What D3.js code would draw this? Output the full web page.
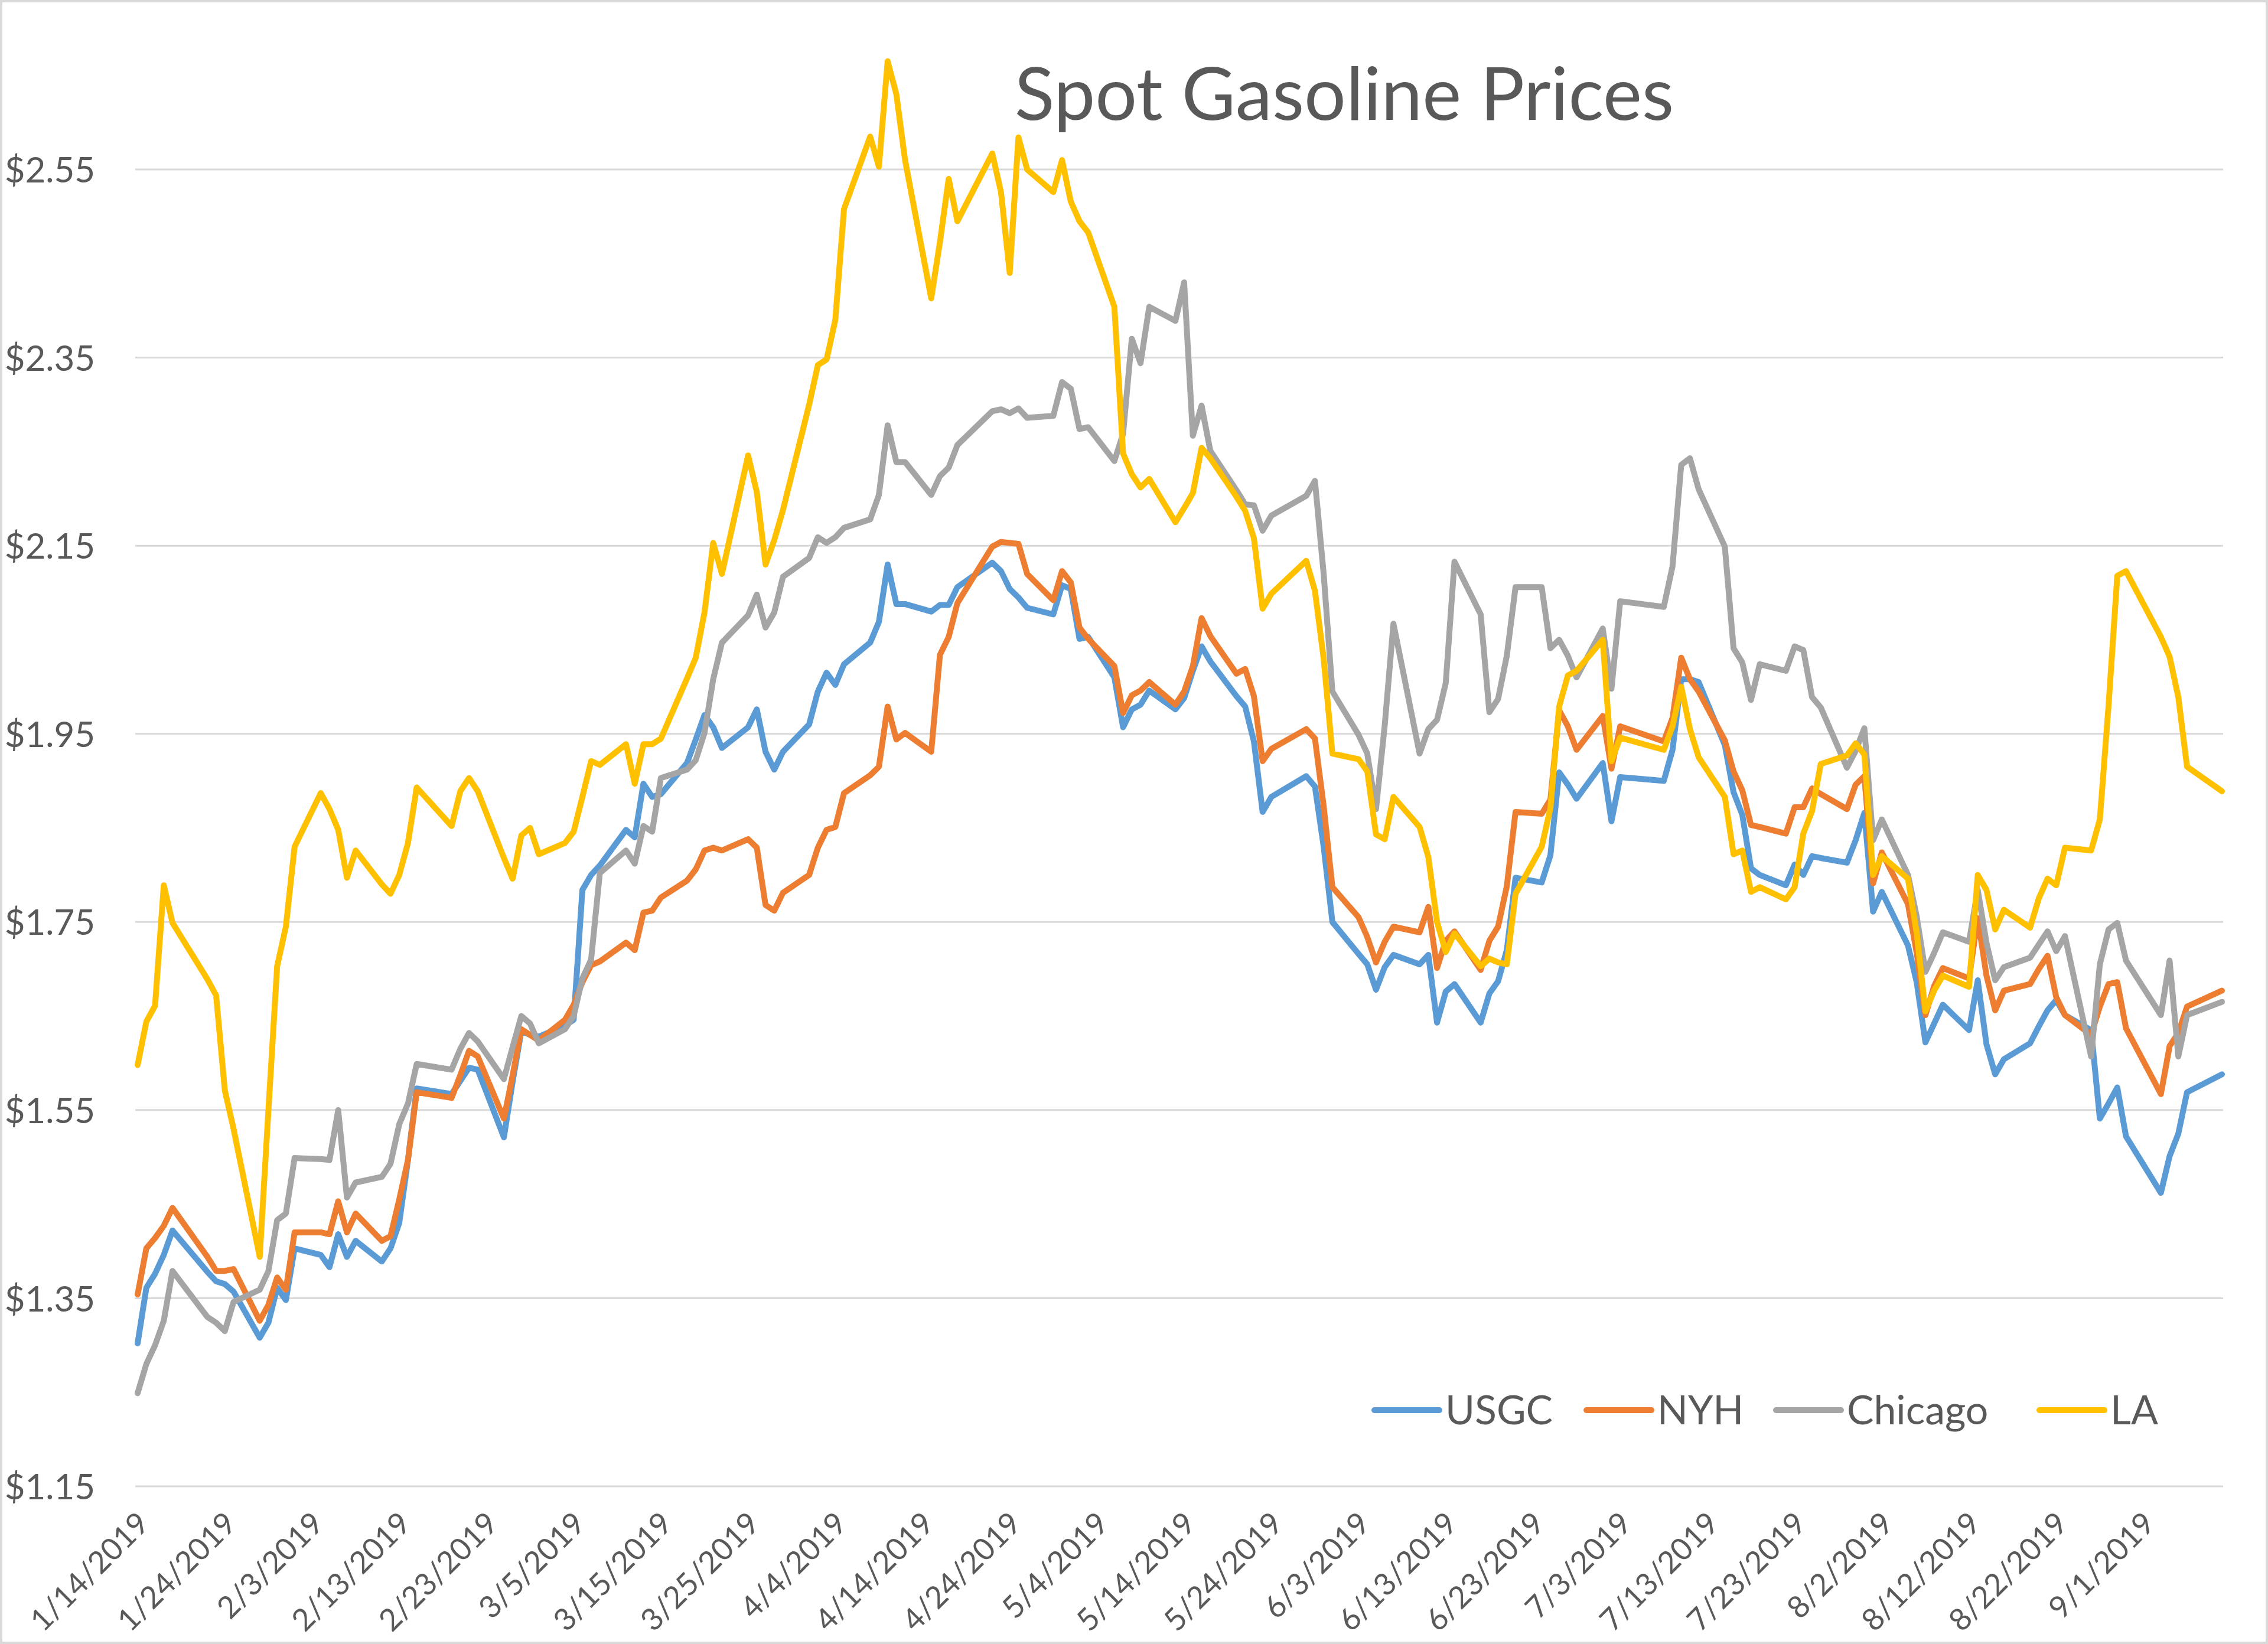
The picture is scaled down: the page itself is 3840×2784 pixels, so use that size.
<!DOCTYPE html>
<html><head><meta charset="utf-8">
<script src="https://cdn.jsdelivr.net/npm/d3@7"></script>
<style>
html,body{margin:0;padding:0;background:#fff;}
svg{display:block;}
</style></head><body>
<svg id="chart" width="3840" height="2784"></svg>
<script>
// ---------------- DATA ----------------
const dates = [
 "2019-01-14","2019-01-15","2019-01-16","2019-01-17","2019-01-18","2019-01-22","2019-01-23","2019-01-24","2019-01-25","2019-01-28","2019-01-29","2019-01-30","2019-01-31",
 "2019-02-01","2019-02-04","2019-02-05","2019-02-06","2019-02-07","2019-02-08","2019-02-11","2019-02-12","2019-02-13","2019-02-14","2019-02-15","2019-02-19","2019-02-20","2019-02-21","2019-02-22","2019-02-25","2019-02-26","2019-02-27","2019-02-28",
 "2019-03-01","2019-03-04","2019-03-05","2019-03-06","2019-03-07","2019-03-08","2019-03-11","2019-03-12","2019-03-13","2019-03-14","2019-03-15","2019-03-18","2019-03-19","2019-03-20","2019-03-21","2019-03-22","2019-03-25","2019-03-26","2019-03-27","2019-03-28","2019-03-29",
 "2019-04-01","2019-04-02","2019-04-03","2019-04-04","2019-04-05","2019-04-08","2019-04-09","2019-04-10","2019-04-11","2019-04-12","2019-04-15","2019-04-16","2019-04-17","2019-04-18","2019-04-22","2019-04-23","2019-04-24","2019-04-25","2019-04-26","2019-04-29","2019-04-30",
 "2019-05-01","2019-05-02","2019-05-03","2019-05-06","2019-05-07","2019-05-08","2019-05-09","2019-05-10","2019-05-13","2019-05-14","2019-05-15","2019-05-16","2019-05-17","2019-05-20","2019-05-21","2019-05-22","2019-05-23","2019-05-24","2019-05-28","2019-05-29","2019-05-30","2019-05-31",
 "2019-06-03","2019-06-04","2019-06-05","2019-06-06","2019-06-07","2019-06-10","2019-06-11","2019-06-12","2019-06-13","2019-06-14","2019-06-17","2019-06-18","2019-06-19","2019-06-20","2019-06-21","2019-06-24","2019-06-25","2019-06-26","2019-06-27","2019-06-28",
 "2019-07-01","2019-07-02","2019-07-03","2019-07-08","2019-07-09","2019-07-10","2019-07-11","2019-07-12","2019-07-15","2019-07-16","2019-07-17","2019-07-18","2019-07-19","2019-07-22","2019-07-23","2019-07-24","2019-07-25","2019-07-26","2019-07-29","2019-07-30","2019-07-31",
 "2019-08-01","2019-08-02","2019-08-05","2019-08-06","2019-08-07","2019-08-08","2019-08-09","2019-08-12","2019-08-13","2019-08-14","2019-08-15","2019-08-16","2019-08-19","2019-08-20","2019-08-21","2019-08-22","2019-08-23","2019-08-26","2019-08-27","2019-08-28","2019-08-29","2019-08-30",
 "2019-09-03","2019-09-04","2019-09-05","2019-09-06","2019-09-10"
];

const usgc = [
 1.302,1.361,1.376,1.396,1.422,1.378,1.368,1.365,1.357,1.308,1.324,1.361,1.348,
 1.403,1.396,1.383,1.418,1.394,1.411,1.389,1.403,1.430,1.497,1.573,1.567,1.581,1.595,1.593,1.521,1.580,1.634,1.630,
 1.628,1.640,1.646,1.784,1.800,1.810,1.848,1.840,1.897,1.883,1.886,1.919,1.944,1.970,1.957,1.935,1.957,1.976,1.931,1.912,1.931,
 1.960,1.995,2.015,2.002,2.024,2.047,2.069,2.130,2.088,2.088,2.080,2.087,2.087,2.106,2.132,2.123,2.104,2.095,2.084,2.077,2.108,
 2.104,2.051,2.053,2.010,1.957,1.976,1.981,1.996,1.976,1.988,2.017,2.043,2.027,1.990,1.979,1.942,1.867,1.883,1.905,1.894,1.830,1.750,
 1.716,1.705,1.678,1.702,1.715,1.705,1.715,1.643,1.676,1.684,1.643,1.674,1.687,1.720,1.797,1.792,1.821,1.909,1.896,1.881,
 1.919,1.857,1.904,1.900,1.933,2.008,2.008,2.005,1.938,1.888,1.864,1.807,1.800,1.789,1.811,1.800,1.820,1.818,1.813,1.837,1.866,
 1.761,1.782,1.725,1.686,1.622,1.642,1.662,1.635,1.688,1.620,1.588,1.604,1.621,1.639,1.656,1.667,1.651,1.635,1.541,1.557,1.574,1.522,
 1.462,1.501,1.525,1.569,1.588
];

const nyh = [
 1.354,1.403,1.414,1.427,1.446,1.394,1.379,1.379,1.381,1.326,1.343,1.372,1.359,
 1.420,1.420,1.418,1.453,1.420,1.440,1.411,1.416,1.455,1.497,1.569,1.563,1.587,1.613,1.607,1.541,1.587,1.636,1.630,
 1.624,1.646,1.662,1.686,1.704,1.708,1.728,1.720,1.760,1.762,1.776,1.794,1.806,1.826,1.829,1.826,1.838,1.829,1.768,1.762,1.781,
 1.800,1.829,1.848,1.851,1.887,1.906,1.915,1.979,1.944,1.951,1.931,2.034,2.053,2.089,2.149,2.154,2.153,2.152,2.120,2.092,2.123,
 2.111,2.063,2.051,2.022,1.972,1.991,1.996,2.005,1.981,1.995,2.022,2.073,2.054,2.014,2.019,1.990,1.921,1.934,1.955,1.945,1.873,1.787,
 1.755,1.734,1.707,1.729,1.745,1.739,1.766,1.701,1.730,1.740,1.699,1.730,1.745,1.788,1.867,1.865,1.880,1.975,1.958,1.933,
 1.969,1.913,1.958,1.942,1.967,2.031,2.008,1.995,1.943,1.910,1.890,1.853,1.851,1.844,1.872,1.872,1.892,1.886,1.870,1.896,1.905,
 1.791,1.824,1.769,1.717,1.651,1.682,1.701,1.690,1.754,1.693,1.656,1.677,1.684,1.700,1.714,1.670,1.651,1.630,1.660,1.684,1.686,1.637,
 1.567,1.618,1.632,1.660,1.677
];

const chicago = [
 1.249,1.280,1.300,1.326,1.379,1.330,1.324,1.315,1.346,1.359,1.379,1.433,1.440,
 1.499,1.498,1.497,1.550,1.457,1.473,1.479,1.493,1.535,1.557,1.599,1.593,1.615,1.632,1.623,1.583,1.617,1.650,1.642,
 1.621,1.636,1.650,1.690,1.710,1.802,1.826,1.812,1.852,1.846,1.903,1.912,1.922,1.951,2.008,2.047,2.076,2.098,2.063,2.079,2.117,
 2.137,2.159,2.153,2.159,2.169,2.178,2.204,2.278,2.239,2.239,2.204,2.224,2.233,2.257,2.293,2.295,2.291,2.296,2.286,2.288,2.324,
 2.317,2.274,2.276,2.240,2.269,2.370,2.344,2.404,2.389,2.430,2.267,2.299,2.251,2.209,2.194,2.193,2.166,2.182,2.203,2.219,2.120,1.995,
 1.949,1.929,1.870,1.959,2.067,1.929,1.955,1.965,2.004,2.133,2.077,1.973,1.987,2.033,2.106,2.106,2.041,2.050,2.033,2.010,
 2.062,1.998,2.091,2.085,2.128,2.236,2.243,2.210,2.149,2.041,2.026,1.986,2.024,2.017,2.043,2.039,1.989,1.978,1.914,1.932,1.956,
 1.837,1.859,1.800,1.756,1.697,1.717,1.739,1.729,1.784,1.728,1.688,1.702,1.712,1.726,1.740,1.719,1.735,1.607,1.705,1.742,1.749,1.709,
 1.651,1.709,1.607,1.651,1.665
];

const la = [
 1.598,1.644,1.661,1.789,1.749,1.689,1.672,1.571,1.530,1.394,1.550,1.703,1.745,
 1.830,1.887,1.870,1.848,1.797,1.826,1.790,1.780,1.800,1.834,1.893,1.852,1.889,1.903,1.889,1.818,1.796,1.842,1.850,
 1.822,1.834,1.846,1.883,1.921,1.917,1.939,1.897,1.939,1.939,1.945,2.009,2.031,2.079,2.153,2.120,2.246,2.207,2.130,2.156,2.188,
 2.300,2.342,2.348,2.390,2.508,2.585,2.553,2.665,2.630,2.560,2.413,2.473,2.540,2.495,2.567,2.526,2.440,2.584,2.550,2.526,2.560,
 2.516,2.495,2.483,2.404,2.248,2.226,2.212,2.221,2.175,2.190,2.206,2.254,2.243,2.202,2.187,2.158,2.083,2.099,2.134,2.102,2.030,1.929,
 1.923,1.910,1.843,1.838,1.883,1.851,1.819,1.750,1.718,1.738,1.703,1.711,1.707,1.705,1.780,1.830,1.871,1.979,2.012,2.017,
 2.050,1.921,1.946,1.933,1.958,2.000,1.955,1.925,1.883,1.822,1.826,1.782,1.787,1.774,1.787,1.844,1.868,1.918,1.927,1.940,1.928,
 1.800,1.820,1.796,1.738,1.655,1.677,1.693,1.681,1.800,1.784,1.742,1.763,1.744,1.775,1.796,1.789,1.829,1.826,1.859,1.980,2.118,2.123,
 2.053,2.032,1.989,1.915,1.889
];

const seriesNames = ["USGC", "NYH", "Chicago", "LA"];
const seriesValues = [usgc, nyh, chicago, la];
const seriesColors = ["#5B9BD5", "#ED7D31", "#A5A5A5", "#FFC000"];

const yTicks = [1.15, 1.35, 1.55, 1.75, 1.95, 2.15, 2.35, 2.55];
const xTickLabels = ["1/14/2019","1/24/2019","2/3/2019","2/13/2019","2/23/2019","3/5/2019","3/15/2019","3/25/2019",
 "4/4/2019","4/14/2019","4/24/2019","5/4/2019","5/14/2019","5/24/2019","6/3/2019","6/13/2019","6/23/2019",
 "7/3/2019","7/13/2019","7/23/2019","8/2/2019","8/12/2019","8/22/2019","9/1/2019"];
const chartTitle = "Spot Gasoline Prices";

// ---------------- LAYOUT ----------------
const W = 3840, H = 2784;
const plot = {left: 233, right: 3762, top: 287, bottom: 2517};
const FONT = "Lato, 'Open Sans', 'Noto Sans', sans-serif";
const TEXT = "#595959";

const parseDate = d3.timeParse("%Y-%m-%d");
const parseTick = d3.timeParse("%m/%d/%Y");
const dateObjs = dates.map(parseDate);

const svg = d3.select("#chart");
svg.append("rect").attr("x", 0).attr("y", 0).attr("width", W).attr("height", H).attr("fill", "#fff");
svg.append("rect").attr("x", 2).attr("y", 2).attr("width", W - 4).attr("height", H - 4)
  .attr("fill", "none").attr("stroke", "#D9D9D9").attr("stroke-width", 4);

const x = d3.scaleTime().domain(d3.extent(dateObjs)).range([plot.left, plot.right]);
const y = d3.scaleLinear().domain([yTicks[0], yTicks[yTicks.length - 1]]).range([plot.bottom, plot.top]);

// gridlines
svg.append("g").selectAll("line").data(yTicks).join("line")
  .attr("x1", plot.left - 4).attr("x2", plot.right + 2)
  .attr("y1", d => y(d)).attr("y2", d => y(d))
  .attr("stroke", "#D9D9D9").attr("stroke-width", 3);

// y axis
const yAxis = svg.append("g").attr("transform", `translate(${plot.left},0)`)
  .call(d3.axisLeft(y).tickValues(yTicks).tickFormat(d => "$" + d.toFixed(2)).tickSize(0).tickPadding(72));
yAxis.select(".domain").remove();
yAxis.selectAll("text").attr("font-family", FONT).attr("font-size", 60).attr("fill", TEXT).attr("dy", "0.36em");

// x axis
const xTickDates = xTickLabels.map(parseTick);
const labelFmt = d3.timeFormat("%-m/%-d/%Y");
const xAxis = svg.append("g").attr("transform", `translate(0,${plot.bottom})`)
  .call(d3.axisBottom(x).tickValues(xTickDates).tickFormat(labelFmt).tickSize(0));
xAxis.select(".domain").remove();
xAxis.selectAll("text")
  .attr("font-family", FONT).attr("font-size", 52).attr("fill", TEXT)
  .attr("x", 0).attr("y", 0).attr("dy", 0)
  .attr("text-anchor", "end")
  .attr("transform", "translate(22,66) rotate(-45)");

// lines
const line = d3.line().x((d, i) => x(dateObjs[i])).y(d => y(d));
seriesValues.forEach((vals, k) => {
  svg.append("path").datum(vals)
    .attr("d", line)
    .attr("fill", "none")
    .attr("stroke", seriesColors[k])
    .attr("stroke-width", 10)
    .attr("stroke-linejoin", "round")
    .attr("stroke-linecap", "round");
});

// title
svg.append("text").attr("x", 2276).attr("y", 203).attr("text-anchor", "middle")
  .attr("font-family", FONT).attr("font-size", 125).attr("fill", TEXT).text(chartTitle);

// legend
const legendLineX = [2327, 2686, 3007, 3453];
const legendY = 2388;
const lg = svg.append("g");
seriesNames.forEach((name, k) => {
  const x0 = legendLineX[k];
  lg.append("line").attr("x1", x0).attr("x2", x0 + 110).attr("y1", legendY).attr("y2", legendY)
    .attr("stroke", seriesColors[k]).attr("stroke-width", 10).attr("stroke-linecap", "round");
  lg.append("text").attr("x", x0 + 120).attr("y", legendY).attr("dy", "0.36em")
    .attr("font-family", FONT).attr("font-size", 68).attr("fill", TEXT).text(name);
});
</script>
</body></html>
